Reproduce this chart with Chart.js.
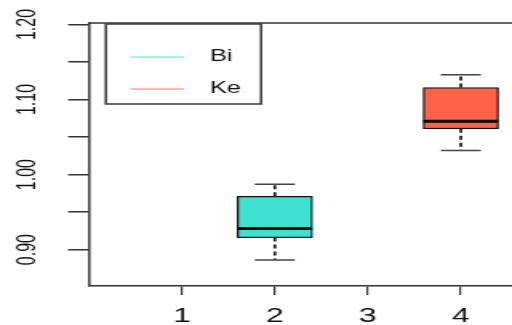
<!DOCTYPE html>
<html>
<head>
<meta charset="utf-8">
<script src="https://cdn.jsdelivr.net/npm/chart.js@4"></script>
<style>
  html,body{margin:0;padding:0;background:#fff;}
  #wrap{width:512px;height:325px;overflow:hidden;}
  /* the original plot is stretched sideways, so draw narrow and widen with css */
  #c{display:block;width:512px;height:325px;}
</style>
</head>
<body>
<div id="wrap"><canvas id="c" width="320" height="325" style="width:512px;height:325px"></canvas></div>
<script>
// box plot data
const groups = ['Bi', 'Ke'];
const groupX = [2, 4];
const groupColors = ['#40E0D0', '#FF6347'];
const lowWhisker = [0.886, 1.032];
const q1 = [0.916, 1.061];
const medians = [0.928, 1.071];
const q3 = [0.971, 1.116];
const highWhisker = [0.987, 1.133];

const xTicks = [1, 2, 3, 4];
const xTickLabels = ['1', '2', '3', '4'];
const yTicks = [0.90, 0.95, 1.00, 1.05, 1.10, 1.15, 1.20];
const yTickLabels = ['0.90', '', '1.00', '', '1.10', '', '1.20'];

const FONT = "'Liberation Sans', Arial, sans-serif";

const boxExtras = {
  id: 'boxExtras',
  afterDatasetsDraw(chart){
    const {ctx, scales:{x, y}} = chart;
    const capHalf = 0.215;
    ctx.save();
    groups.forEach((g, i)=>{
      const cx = x.getPixelForValue(groupX[i]);
      const yLo = y.getPixelForValue(lowWhisker[i]);
      const yQ1 = y.getPixelForValue(q1[i]);
      const yMed = y.getPixelForValue(medians[i]);
      const yQ3 = y.getPixelForValue(q3[i]);
      const yHi = y.getPixelForValue(highWhisker[i]);
      // whiskers
      ctx.strokeStyle = '#222';
      ctx.lineWidth = 1.8;
      ctx.setLineDash([4, 3]);
      ctx.beginPath();
      ctx.moveTo(cx, yQ3); ctx.lineTo(cx, yHi);
      ctx.moveTo(cx, yQ1); ctx.lineTo(cx, yLo);
      ctx.stroke();
      ctx.setLineDash([]);
      // caps
      const xl = x.getPixelForValue(groupX[i] - capHalf);
      const xr = x.getPixelForValue(groupX[i] + capHalf);
      ctx.strokeStyle = '#444';
      ctx.lineWidth = 1.5;
      ctx.beginPath();
      ctx.moveTo(xl, yHi); ctx.lineTo(xr, yHi);
      ctx.moveTo(xl, yLo); ctx.lineTo(xr, yLo);
      ctx.stroke();
      // median
      const bl = x.getPixelForValue(groupX[i] - 0.4);
      const br = x.getPixelForValue(groupX[i] + 0.4);
      ctx.strokeStyle = '#000';
      ctx.lineWidth = 3;
      ctx.beginPath();
      ctx.moveTo(bl, yMed); ctx.lineTo(br, yMed);
      ctx.stroke();
    });
    ctx.restore();
  },
  afterDraw(chart){
    const {ctx, chartArea:a} = chart;
    ctx.save();
    // top frame line
    ctx.strokeStyle = '#333';
    ctx.lineWidth = 1.5;
    ctx.beginPath();
    ctx.moveTo(a.left, a.top); ctx.lineTo(a.right, a.top);
    ctx.stroke();
    // legend box
    const lx = a.left + 10.6, ly = a.top + 1, lw = 97, lh = 80;
    ctx.fillStyle = '#fff';
    ctx.fillRect(lx, ly, lw, lh);
    ctx.strokeStyle = '#444';
    ctx.lineWidth = 1.6;
    ctx.strokeRect(lx, ly, lw, lh);
    ctx.font = '16px ' + FONT;
    ctx.textBaseline = 'middle';
    groups.forEach((g, i)=>{
      const yy = ly + 33 + i * 32;
      ctx.globalAlpha = 0.6;
      ctx.strokeStyle = groupColors[i];
      ctx.lineWidth = 1.5;
      ctx.beginPath();
      ctx.moveTo(lx + 15.6, yy); ctx.lineTo(lx + 48.8, yy);
      ctx.stroke();
      ctx.globalAlpha = 1;
      ctx.fillStyle = '#111';
      ctx.fillText(g, lx + 65, yy);
    });
    ctx.restore();
  }
};

new Chart(document.getElementById('c'), {
  type: 'bar',
  data: {
    datasets: groups.map((g, i)=>({
      label: g,
      data: [{x: groupX[i], y: [q1[i], q3[i]]}],
      backgroundColor: groupColors[i],
      borderColor: '#111',
      borderWidth: 1.3,
      borderSkipped: false,
      barThickness: 47,
      grouped: false
    }))
  },
  options: {
    responsive: false,
    animation: false,
    layout: {padding: 0},
    plugins: {legend: {display: false}, tooltip: {enabled: false}},
    scales: {
      x: {
        type: 'linear',
        offset: false,
        min: 0, max: 4.55,
        afterBuildTicks: s => { s.ticks = xTicks.map(v => ({value: v})); },
        afterFit: s => { s.height = 39; s.paddingLeft = 0; s.paddingRight = 0; },
        border: {display: true, color: '#333', width: 1.5},
        grid: {offset: false, drawOnChartArea: false, tickLength: 9, color: '#333', lineWidth: 1.2},
        ticks: {
          autoSkip: false, maxRotation: 0, padding: 9,
          color: '#111', font: {family: FONT, size: 20},
          callback: (v, i) => xTickLabels[i]
        }
      },
      y: {
        type: 'linear',
        min: 0.8515, max: 1.202,
        afterBuildTicks: s => { s.ticks = yTicks.map(v => ({value: v})); },
        afterFit: s => { s.width = 55.6; s.paddingTop = 23; s.paddingBottom = 0; },
        border: {display: true, color: '#444', width: 1.6},
        grid: {drawOnChartArea: false, tickLength: 13, color: '#333', lineWidth: 1.5},
        ticks: {
          autoSkip: false, minRotation: 90, maxRotation: 90, crossAlign: 'center', padding: 9.5,
          color: '#111', font: {family: FONT, size: 16},
          callback: (v, i) => yTickLabels[i]
        }
      }
    }
  },
  plugins: [boxExtras]
});
</script>
</body>
</html>
